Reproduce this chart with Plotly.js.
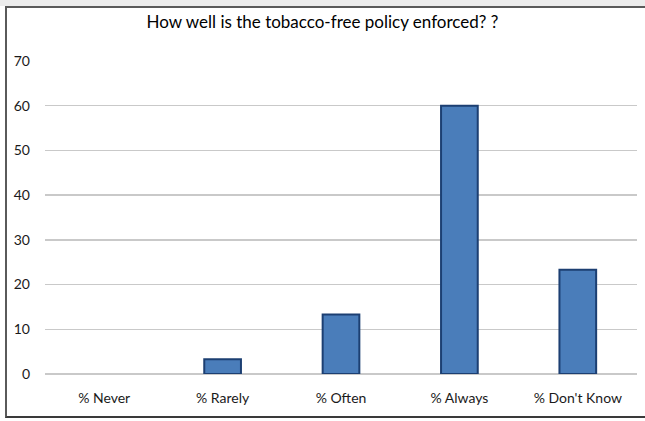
<!DOCTYPE html>
<html>
<head>
<meta charset="utf-8">
<script src="https://cdn.plot.ly/plotly-3.0.1.min.js"></script>
<style>
  html, body { margin: 0; padding: 0; background: #ffffff; overflow: hidden; width: 645px; height: 421px; }
  #band { position: absolute; left: 0; top: 0; width: 645px; height: 6px; background: #ececec; }
  #frame {
    position: absolute; left: 5px; top: 6px; width: 640px; height: 412px;
    border-left: 2px solid #5a5a5a; border-top: 2px solid #5a5a5a; border-bottom: 2px solid #3a3a3a;
    border-right: 0;
    box-sizing: border-box;
  }
  #chart { position: absolute; left: 0; top: 0; width: 645px; height: 421px; }
</style>
</head>
<body>
<div id="band"></div>
<div id="frame"></div>
<div id="chart"></div>
<script>
// Survey responses (percent of respondents)
const categories = ['% Never', '% Rarely', '% Often', '% Always', "% Don't Know"];
const percents = [0, 3.3, 13.3, 60, 23.3];
const yTicks = [0, 10, 20, 30, 40, 50, 60, 70];

const trace = {
  type: 'bar',
  x: categories,
  y: percents,
  marker: {
    color: '#4a7dba',
    // no outline on empty bars, so a zero value leaves no mark
    line: { color: '#1c3f72', width: percents.map(v => (v > 0 ? 2 : 0)) }
  },
  hoverinfo: 'x+y'
};

const font = 'Lato, "Open Sans", sans-serif';

const layout = {
  width: 645,
  height: 421,
  paper_bgcolor: 'rgba(0,0,0,0)',
  plot_bgcolor: 'rgba(0,0,0,0)',
  margin: { l: 45, r: 8, t: 61, b: 47 },
  bargap: 0.69,
  showlegend: false,
  title: {
    text: 'How well is the tobacco-free policy enforced? ?',
    font: { family: font, size: 17, color: '#000000' },
    x: 0.5, xref: 'container', xanchor: 'center',
    y: 0.947, yref: 'container', yanchor: 'middle',
    automargin: false
  },
  xaxis: {
    type: 'category',
    showgrid: false,
    showline: false,
    zeroline: false,
    ticks: '',
    ticklabelstandoff: 14,
    tickfont: { family: font, size: 14, color: '#1a1a1a' }
  },
  yaxis: {
    range: [0, 70],
    tickvals: yTicks,
    ticktext: yTicks.map(String),
    showgrid: true,
    gridcolor: '#c9c9c9',
    gridwidth: 1.5,
    zeroline: true,
    zerolinecolor: '#c9c9c9',
    zerolinewidth: 1.5,
    showline: false,
    ticks: '',
    ticklabelstandoff: 14,
    tickfont: { family: font, size: 14, color: '#1a1a1a' }
  }
};

Plotly.newPlot('chart', [trace], layout, { displayModeBar: false, staticPlot: true });
</script>
</body>
</html>
